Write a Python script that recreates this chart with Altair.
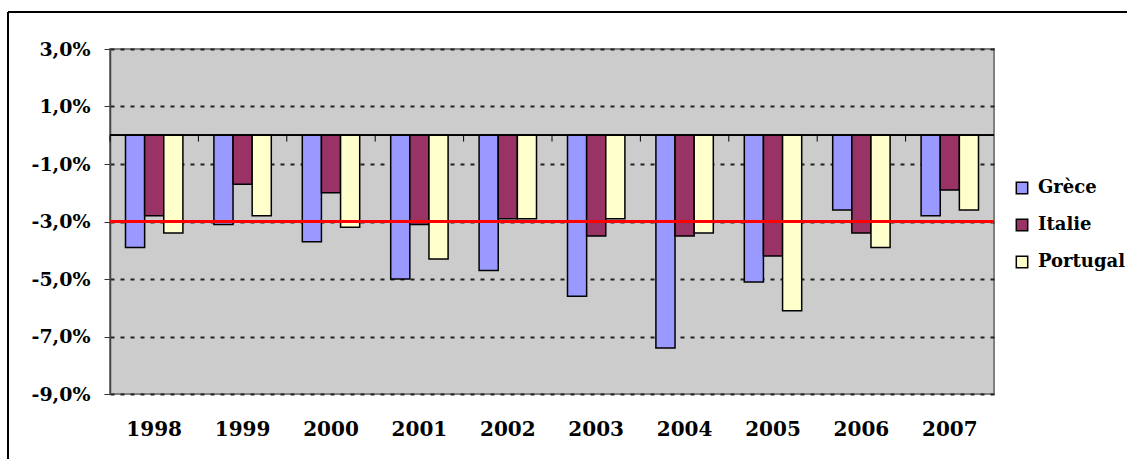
import altair as alt
import pandas as pd

# Public deficit (% of GDP), 1998-2007
years = ["1998", "1999", "2000", "2001", "2002", "2003", "2004", "2005", "2006", "2007"]
countries = ["Grèce", "Italie", "Portugal"]
grece = [-3.9, -3.1, -3.7, -5.0, -4.7, -5.6, -7.4, -5.1, -2.6, -2.8]
italie = [-2.8, -1.7, -2.0, -3.1, -2.9, -3.5, -3.5, -4.2, -3.4, -1.9]
portugal = [-3.4, -2.8, -3.2, -4.3, -2.9, -2.9, -3.4, -6.1, -3.9, -2.6]
colors = ["#9999FF", "#993366", "#FFFFCC"]
y_ticks = [3, 1, -1, -3, -5, -7, -9]
limit = -3.0

rows = []
for name, series in zip(countries, [grece, italie, portugal]):
    for yr, v in zip(years, series):
        rows.append({"annee": yr, "pays": name, "valeur": v})
df = pd.DataFrame(rows)
df_years = pd.DataFrame({"annee": years})

FONT = "DejaVu Serif"

x_axis = alt.Axis(
    title=None, domain=False, ticks=False, grid=False, labelAngle=0,
    labelFont=FONT, labelFontWeight="bold", labelFontSize=20,
    labelColor="black", labelPadding=25,
)
x_scale = alt.Scale(domain=years, paddingInner=0, paddingOuter=0)
y_scale = alt.Scale(domain=[-9, 3], nice=False, zero=False)
y_axis = alt.Axis(
    title=None, values=y_ticks, grid=True, gridColor="#222222",
    gridDash=[4, 6], gridWidth=2, tickSize=6, tickColor="#333333",
    domainColor="#444444", domainWidth=1.5,
    labelFont=FONT, labelFontWeight="bold", labelFontSize=19,
    labelColor="black", labelPadding=14,
    labelExpr="(datum.value < 0 ? '-' : '') + replace(format(abs(datum.value), '.1f'), '.', ',') + '%'",
)

bars = alt.Chart(df).mark_bar(stroke="black", strokeWidth=1.5).encode(
    x=alt.X("annee:N", scale=x_scale, axis=x_axis, sort=years),
    xOffset=alt.XOffset("pays:N", sort=countries,
                        scale=alt.Scale(domain=countries, paddingInner=0, paddingOuter=0.81)),
    y=alt.Y("valeur:Q", scale=y_scale, axis=y_axis),
    color=alt.Color(
        "pays:N", sort=countries,
        scale=alt.Scale(domain=countries, range=colors),
        legend=alt.Legend(
            title=None, orient="none", legendX=903, legendY=130,
            symbolType="square", symbolSize=130, symbolStrokeColor="black",
            symbolStrokeWidth=1.5, symbolOpacity=1,
            labelFont=FONT, labelFontWeight="bold", labelFontSize=18,
            labelColor="black", labelOffset=7, rowPadding=19,
        ),
    ),
)

# horizontal axis line at zero
zero_line = alt.Chart(df_years).mark_rule(color="black", strokeWidth=1).encode(
    y=alt.datum(0)
)

# category tick marks hanging from the zero line
cat_ticks = alt.Chart(df_years).mark_rule(color="black", strokeWidth=1).encode(
    x=alt.X("annee:N", scale=x_scale, axis=x_axis, sort=years, bandPosition=0),
    y=alt.datum(0),
    y2=alt.datum(-0.22),
)

# 3 % deficit threshold
threshold = alt.Chart(df_years).mark_rule(color="#FF0000", strokeWidth=3).encode(
    y=alt.datum(limit)
)

# outer chart frame
frame_top = alt.Chart(df_years).mark_rule(color="black", strokeWidth=2).encode(
    x=alt.value(-102), x2=alt.value(1100), y=alt.value(-37)
)
frame_left = alt.Chart(df_years).mark_rule(color="black", strokeWidth=2).encode(
    x=alt.value(-102), y=alt.value(-37), y2=alt.value(500)
)

chart = alt.layer(bars, zero_line, cat_ticks, threshold, frame_top, frame_left).properties(
    width=884,
    height=345,
    autosize=alt.AutoSizeParams(type="none"),
    padding={"left": 110, "top": 49, "right": 133, "bottom": 65},
    background="white",
).configure_view(
    fill="#CCCCCC", stroke="#808080", strokeWidth=2
)

chart.save("out.html", embed_options={"renderer": "svg", "actions": False})
